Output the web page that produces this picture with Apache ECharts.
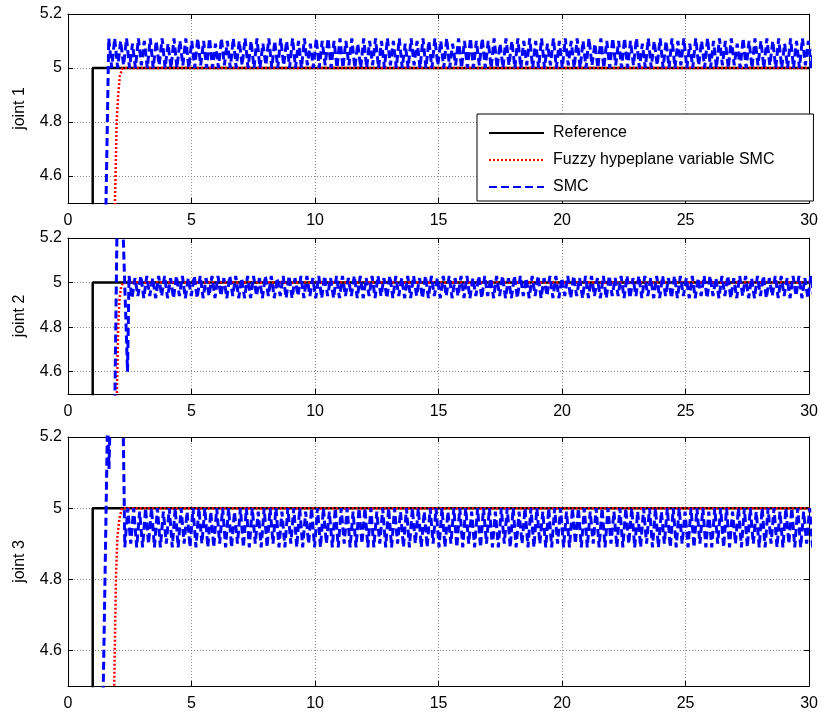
<!DOCTYPE html>
<html>
<head>
<meta charset="utf-8">
<script src="https://cdn.jsdelivr.net/npm/echarts@6/dist/echarts.min.js"></script>
<style>html,body{margin:0;padding:0;background:#fff;}#c{width:821px;height:715px;}</style>
</head>
<body>
<div id="c"></div>
<script>
// ---------- data ----------
const seriesNames = ['Reference', 'Fuzzy hypeplane variable SMC', 'SMC'];
const jointNames = ['joint 1', 'joint 2', 'joint 3'];
const xTicks = [0, 5, 10, 15, 20, 25, 30];
const yTicks = [4.6, 4.8, 5, 5.2];

// reference step (same for all joints)
const refT = [0, 1, 1, 30];
const refV = [0, 0, 5, 5];

// fuzzy hyperplane variable SMC (transient then flat)
const fuzzy1T = [1.70, 1.90, 1.97, 2.03, 2.10, 2.21, 30];
const fuzzy1V = [3.50, 4.50, 4.80, 4.90, 4.97, 5.00, 5.00];
const fuzzy2T = [1.80, 1.98, 2.03, 2.08, 2.15, 2.23, 30];
const fuzzy2V = [3.50, 4.50, 4.80, 4.92, 4.98, 5.00, 5.00];
const fuzzy3T = [1.60, 1.87, 1.94, 2.00, 2.08, 2.18, 30];
const fuzzy3V = [3.50, 4.50, 4.80, 4.92, 4.97, 5.00, 5.00];

// SMC transient part
const smc1HeadT = [1.30, 1.65];
const smc1HeadV = [3.20, 5.11];
const smc2HeadT = [1.88, 2.05, 2.41];
const smc2HeadV = [4.30, 5.85, 4.60];
const smc3HeadT = [1.20, 1.60, 1.66, 1.72, 2.21];
const smc3HeadV = [3.50, 5.25, 5.11, 5.30, 5.35];

// SMC chattering part, sampled every oscDt from its start time
const oscDt = 0.12;
const smc1OscStart = 1.77;
const smc1Osc = [
5.00,5.11,5.00,5.10,5.01,5.11,5.00,5.09,5.00,5.11,
5.01,5.10,5.00,5.11,5.00,5.10,5.01,5.11,5.00,5.09,
5.00,5.11,5.00,5.10,5.01,5.11,5.00,5.10,5.00,5.11,
5.01,5.10,5.00,5.11,5.00,5.09,5.00,5.11,5.01,5.10,
5.00,5.11,5.00,5.10,5.01,5.11,5.00,5.10,5.00,5.11,
5.00,5.09,5.01,5.11,5.00,5.10,5.00,5.11,5.01,5.10,
5.00,5.11,5.00,5.10,5.00,5.11,5.01,5.09,5.00,5.11,
5.00,5.10,5.01,5.11,5.00,5.10,5.00,5.11,5.00,5.10,
5.01,5.11,5.00,5.09,5.00,5.11,5.00,5.10,5.01,5.11,
5.00,5.10,5.00,5.11,5.01,5.10,5.00,5.11,5.00,5.09,
5.00,5.11,5.01,5.10,5.00,5.11,5.00,5.10,5.00,5.11,
5.01,5.10,5.00,5.11,5.00,5.09,5.01,5.11,5.00,5.10,
5.00,5.11,5.00,5.10,5.01,5.11,5.00,5.10,5.00,5.11,
5.00,5.09,5.00,5.11,5.01,5.10,5.00,5.11,5.00,5.10,
5.01,5.11,5.00,5.10,5.00,5.11,5.00,5.09,5.01,5.11,
5.00,5.10,5.00,5.11,5.01,5.10,5.00,5.11,5.00,5.10,
5.00,5.11,5.01,5.09,5.00,5.11,5.00,5.10,5.00,5.11,
5.01,5.10,5.00,5.11,5.00,5.10,5.01,5.11,5.00,5.09,
5.00,5.11,5.00,5.10,5.01,5.11,5.00,5.10,5.00,5.11,
5.00,5.10,5.01,5.11,5.00,5.09,5.00,5.11,5.01,5.10,
5.00,5.11,5.00,5.10,5.00,5.11,5.01,5.10,5.00,5.11,
5.01,5.09,5.00,5.11,5.00,5.10,5.00,5.11,5.01,5.10,
5.00,5.11,5.01,5.10,5.00,5.11,5.00,5.09,5.00,5.11,
5.00,5.10,5.00,5.11,5.01,5.10,5.00,5.11,5.00,5.10
];
const smc2OscStart = 2.47;
const smc2Osc = [
5.03,4.93,5.02,4.94,5.03,4.93,5.03,4.94,5.02,4.93,
5.03,4.94,5.03,4.93,5.02,4.93,5.03,4.94,5.03,4.93,
5.02,4.94,5.03,4.93,5.03,4.93,5.02,4.94,5.03,4.93,
5.03,4.94,5.02,4.93,5.03,4.94,5.03,4.93,5.02,4.93,
5.03,4.93,5.03,4.94,5.02,4.93,5.03,4.94,5.03,4.93,
5.02,4.94,5.03,4.93,5.03,4.93,5.02,4.94,5.03,4.93,
5.03,4.94,5.02,4.93,5.03,4.93,5.03,4.94,5.02,4.93,
5.03,4.93,5.03,4.94,5.02,4.94,5.03,4.93,5.03,4.93,
5.02,4.94,5.03,4.93,5.03,4.94,5.02,4.93,5.03,4.93,
5.03,4.94,5.02,4.93,5.03,4.93,5.03,4.94,5.02,4.93,
5.03,4.93,5.03,4.94,5.02,4.93,5.03,4.94,5.03,4.93,
5.02,4.94,5.03,4.93,5.03,4.93,5.02,4.94,5.03,4.93,
5.03,4.94,5.02,4.93,5.03,4.94,5.03,4.93,5.02,4.93,
5.03,4.93,5.03,4.94,5.02,4.93,5.03,4.94,5.03,4.93,
5.02,4.94,5.03,4.93,5.03,4.93,5.02,4.94,5.03,4.93,
5.03,4.94,5.02,4.93,5.03,4.93,5.03,4.94,5.02,4.93,
5.03,4.93,5.03,4.94,5.02,4.94,5.03,4.93,5.03,4.93,
5.02,4.94,5.03,4.93,5.03,4.94,5.02,4.93,5.03,4.93,
5.03,4.94,5.02,4.93,5.03,4.93,5.03,4.94,5.02,4.93,
5.03,4.93,5.02,4.94,5.03,4.93,5.03,4.94,5.02,4.93,
5.03,4.94,5.03,4.93,5.02,4.93,5.03,4.94,5.03,4.93,
5.02,4.93,5.03,4.94,5.03,4.93,5.02,4.94,5.03,4.93,
5.03,4.94,5.02,4.93,5.03,4.94,5.03,4.93,5.02,4.93,
5.03,4.93,5.03,4.94,5.02,4.93,5.03,4.94,5.03,4.93
];
const smc3OscStart = 2.30;
const smc3Osc = [
4.89,5.00,4.90,5.00,4.89,4.99,4.89,5.00,4.90,5.00,
4.89,5.00,4.89,4.99,4.90,5.00,4.89,5.00,4.89,5.00,
4.90,4.99,4.89,5.00,4.89,5.00,4.90,5.00,4.89,4.99,
4.89,5.00,4.90,5.00,4.89,5.00,4.89,4.99,4.90,5.00,
4.89,5.00,4.89,5.00,4.90,4.99,4.89,5.00,4.89,5.00,
4.90,5.00,4.89,4.99,4.89,5.00,4.90,5.00,4.89,5.00,
4.89,4.99,4.90,5.00,4.89,5.00,4.89,5.00,4.90,4.99,
4.89,5.00,4.89,5.00,4.90,5.00,4.89,4.99,4.89,5.00,
4.90,5.00,4.89,5.00,4.89,4.99,4.90,5.00,4.89,5.00,
4.89,5.00,4.90,4.99,4.89,5.00,4.89,5.00,4.90,5.00,
4.89,4.99,4.89,5.00,4.90,5.00,4.89,5.00,4.89,4.99,
4.90,5.00,4.89,5.00,4.89,5.00,4.90,4.99,4.89,5.00,
4.89,5.00,4.90,5.00,4.89,4.99,4.89,5.00,4.90,5.00,
4.89,5.00,4.89,4.99,4.90,5.00,4.89,5.00,4.89,5.00,
4.90,4.99,4.89,5.00,4.89,5.00,4.90,5.00,4.89,4.99,
4.89,5.00,4.90,5.00,4.89,5.00,4.89,4.99,4.90,5.00,
4.89,5.00,4.89,5.00,4.90,4.99,4.89,5.00,4.89,5.00,
4.90,5.00,4.89,4.99,4.89,5.00,4.90,5.00,4.89,5.00,
4.89,4.99,4.90,5.00,4.89,5.00,4.89,5.00,4.90,4.99,
4.89,5.00,4.89,5.00,4.90,5.00,4.89,4.99,4.89,5.00,
4.90,5.00,4.89,5.00,4.89,4.99,4.90,5.00,4.89,5.00,
4.89,5.00,4.90,4.99,4.89,5.00,4.89,5.00,4.90,5.00,
4.89,4.99,4.89,5.00,4.90,5.00,4.89,5.00,4.89,4.99,
4.90,5.00,4.89,5.00,4.89,5.00,4.90,4.99,4.89,5.00
];

// ---------- build ----------
function pairs(t, v) { return t.map((x, i) => [x, v[i]]); }
function osc(start, vals) { return vals.map((v, i) => [+(start + i * oscDt).toFixed(3), v]); }

const refData = pairs(refT, refV);
const fuzzyData = [pairs(fuzzy1T, fuzzy1V), pairs(fuzzy2T, fuzzy2V), pairs(fuzzy3T, fuzzy3V)];
const smcData = [
  pairs(smc1HeadT, smc1HeadV).concat(osc(smc1OscStart, smc1Osc)),
  pairs(smc2HeadT, smc2HeadV).concat(osc(smc2OscStart, smc2Osc)),
  pairs(smc3HeadT, smc3HeadV).concat(osc(smc3OscStart, smc3Osc))
];

const FONT = 'Arial, "Liberation Sans", sans-serif';
const grids = [
  { left: 68, top: 14, width: 743, height: 189 },
  { left: 68, top: 238, width: 743, height: 156 },
  { left: 68, top: 437, width: 743, height: 249 }
];

const xAxes = [], yAxes = [], series = [];
const gridLine = { show: true, lineStyle: { color: '#8a8a8a', type: [1, 2], width: 1 } };
grids.forEach((g, k) => {
  xAxes.push({
    type: 'value', gridIndex: k, position: 'bottom', min: 0, max: 30, interval: 5,
    axisLine: { onZero: false, lineStyle: { color: '#000', width: 1 } },
    axisTick: { inside: true, length: 5, lineStyle: { color: '#000' } },
    axisLabel: { color: '#000', fontSize: 16, fontFamily: FONT, margin: 10 },
    splitLine: gridLine
  });
  xAxes.push({
    type: 'value', gridIndex: k, position: 'top', min: 0, max: 30, interval: 5,
    axisLine: { onZero: false, lineStyle: { color: '#000', width: 1 } },
    axisTick: { inside: true, length: 5, lineStyle: { color: '#000' } },
    axisLabel: { show: false }, splitLine: { show: false }
  });
  yAxes.push({
    type: 'value', gridIndex: k, position: 'left', min: 4.5, max: 5.2,
    name: jointNames[k], nameLocation: 'middle', nameGap: 40,
    nameTextStyle: { color: '#000', fontSize: 16, fontFamily: FONT },
    axisLine: { onZero: false, lineStyle: { color: '#000', width: 1 } },
    axisTick: { inside: true, length: 5, lineStyle: { color: '#000' }, customValues: yTicks },
    axisLabel: { color: '#000', fontSize: 16, fontFamily: FONT, margin: 6, customValues: yTicks },
    splitLine: gridLine
  });
  yAxes.push({
    type: 'value', gridIndex: k, position: 'right', min: 4.5, max: 5.2,
    axisLine: { onZero: false, lineStyle: { color: '#000', width: 1 } },
    axisTick: { inside: true, length: 5, lineStyle: { color: '#000' }, customValues: yTicks },
    axisLabel: { show: false }, splitLine: { show: false }
  });
  const xi = 2 * k, yi = 2 * k;
  series.push({
    name: seriesNames[0], type: 'line', xAxisIndex: xi, yAxisIndex: yi, data: refData,
    symbol: 'none', lineStyle: { color: '#000', width: 2.5 }, itemStyle: { color: '#000' }, z: 2
  });
  series.push({
    name: seriesNames[1], type: 'line', xAxisIndex: xi, yAxisIndex: yi, data: fuzzyData[k],
    symbol: 'none', lineStyle: { color: '#ff0000', width: 2.5, type: [2, 2] }, itemStyle: { color: '#ff0000' }, z: 3
  });
  series.push({
    name: seriesNames[2], type: 'line', xAxisIndex: xi, yAxisIndex: yi, data: smcData[k],
    symbol: 'none', lineStyle: { color: '#0000ff', width: 3, type: [8, 4] }, itemStyle: { color: '#0000ff' }, z: 4
  });
});

const chart = echarts.init(document.getElementById('c'), null, { renderer: 'canvas' });
chart.setOption({
  animation: false,
  backgroundColor: '#fff',
  grid: grids,
  xAxis: xAxes,
  yAxis: yAxes,
  legend: {
    data: seriesNames, orient: 'vertical', left: 477, top: 114,
    itemWidth: 55, itemHeight: 16, itemGap: 11,
    padding: [11, 39, 6, 11],
    borderColor: '#000', borderWidth: 1, backgroundColor: '#fff',
    itemStyle: { opacity: 0 },
    textStyle: { color: '#000', fontSize: 16, fontFamily: FONT, lineHeight: 16, padding: [0, 0, 0, 4] },
    z: 10
  },
  series: series
});
</script>
</body>
</html>
